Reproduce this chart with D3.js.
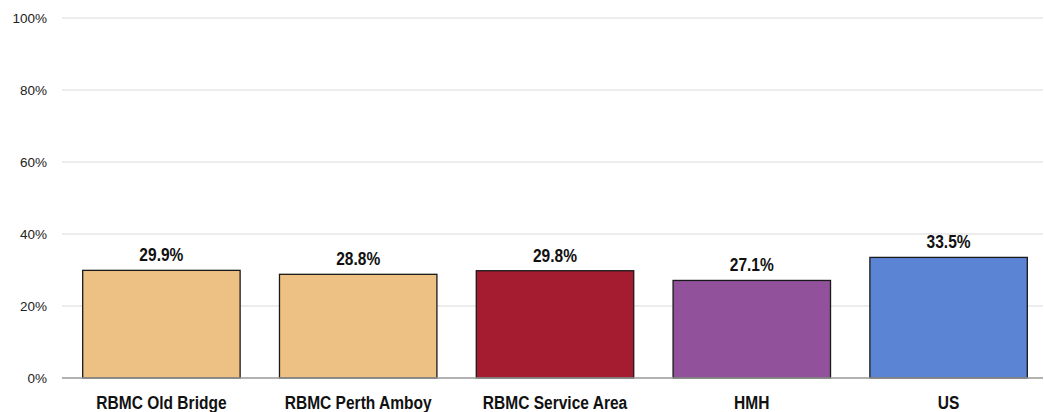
<!DOCTYPE html>
<html><head><meta charset="utf-8">
<script src="https://cdn.jsdelivr.net/npm/d3@7"></script>
<style>body{margin:0;background:#fff}svg{display:block;font-family:"Liberation Sans",Arial,sans-serif}</style>
</head><body><svg id="c" width="1044" height="412"></svg>
<script>
const categories = ["RBMC Old Bridge","RBMC Perth Amboy","RBMC Service Area","HMH","US"];
const values = [29.9, 28.8, 29.8, 27.1, 33.5];
const colors = ["#EDC084","#EDC084","#A51B30","#91519B","#5B84D4"];
const yTicks = [0,20,40,60,80,100];

const svg = d3.select("#c");
const x = d3.scaleBand().domain(categories).range([63,1047]).paddingInner(0.2).paddingOuter(0.1);
const y = d3.scaleLinear().domain([0,100]).range([378,18]);
const narrow = 0.84;

svg.append("g").selectAll("line").data(yTicks.filter(d=>d>0)).join("line")
  .attr("x1",62).attr("x2",1043).attr("y1",d=>y(d)).attr("y2",d=>y(d))
  .attr("stroke","#d9d9d9").attr("stroke-width",1);

svg.append("g").selectAll("text").data(yTicks).join("text")
  .attr("x",47).attr("y",d=>y(d)+5).attr("text-anchor","end")
  .attr("font-size",13.5).attr("fill","#222").text(d=>d+"%");

svg.append("g").selectAll("rect").data(values).join("rect")
  .attr("x",(d,i)=>x(categories[i])).attr("width",x.bandwidth())
  .attr("y",d=>y(d)).attr("height",d=>y(0)-y(d))
  .attr("fill",(d,i)=>colors[i]).attr("stroke","#1a1a1a").attr("stroke-width",1.3);

svg.append("line").attr("x1",62).attr("x2",1043).attr("y1",y(0)).attr("y2",y(0))
  .attr("stroke","#999").attr("stroke-width",1.3);

svg.append("g").selectAll("text").data(values).join("text")
  .attr("transform",(d,i)=>`translate(${x(categories[i])+x.bandwidth()/2},${y(d)-9}) scale(${narrow},1)`)
  .attr("text-anchor","middle").attr("font-size",18.5).attr("font-weight","bold").attr("fill","#111")
  .text(d=>d.toFixed(1)+"%");

svg.append("g").selectAll("text").data(categories).join("text")
  .attr("transform",d=>`translate(${x(d)+x.bandwidth()/2},409) scale(${narrow},1)`)
  .attr("text-anchor","middle").attr("font-size",18.5).attr("font-weight","bold").attr("fill","#111")
  .text(d=>d);
</script></body></html>
